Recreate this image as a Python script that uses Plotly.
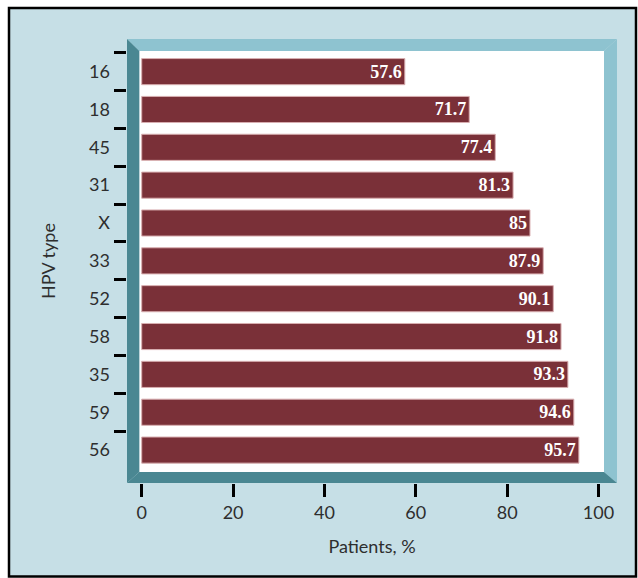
import plotly.graph_objects as go

hpv_types = ["16", "18", "45", "31", "X", "33", "52", "58", "35", "59", "56"]
patients_pct = [57.6, 71.7, 77.4, 81.3, 85, 87.9, 90.1, 91.8, 93.3, 94.6, 95.7]
x_ticks = [0, 20, 40, 60, 80, 100]

W, H = 638, 578
PL, PR, PT, PB = 127, 617, 39, 483  # plot area in px


def px_x(px):
    return (px - PL) / (PR - PL)


def px_y(py):
    return (PB - py) / (PB - PT)


BG = "#c6dfe6"
LIGHT = "#8ec3d0"
DARK = "#4a8792"
BAR = "#7a3038"
TXT = "#2e2e2e"

fig = go.Figure()
fig.add_trace(go.Bar(
    y=hpv_types, x=patients_pct, orientation="h",
    marker=dict(color=BAR, line=dict(color="#d8aeb0", width=1)),
    text=patients_pct, texttemplate="%{x}", textposition="inside",
    insidetextanchor="end",
    textfont=dict(family="Liberation Serif", size=18, color="white", weight="bold"),
    hoverinfo="skip",
))

oL, oR, oT, oB = px_x(127), px_x(617), px_y(39), px_y(483)
iL, iR, iT, iB = px_x(139.3), px_x(604), px_y(51), px_y(472)

shapes = [
    dict(type="rect", xref="paper", yref="paper", x0=px_x(9), x1=px_x(636),
         y0=px_y(576.5), y1=px_y(8), fillcolor=BG, line=dict(color="black", width=2.5),
         layer="below"),
    dict(type="rect", xref="paper", yref="paper", x0=iL, x1=iR, y0=iB, y1=iT,
         fillcolor="white", line=dict(width=0), layer="below"),
    dict(type="path", xref="paper", yref="paper",
         path=f"M{oL},{oT} L{oR},{oT} L{iR},{iT} L{iL},{iT} Z",
         fillcolor=LIGHT, line=dict(width=0), layer="below"),
    dict(type="path", xref="paper", yref="paper",
         path=f"M{oR},{oT} L{oR},{oB} L{iR},{iB} L{iR},{iT} Z",
         fillcolor=LIGHT, line=dict(width=0), layer="below"),
    dict(type="path", xref="paper", yref="paper",
         path=f"M{oL},{oB} L{oR},{oB} L{iR},{iB} L{iL},{iB} Z",
         fillcolor=DARK, line=dict(width=0), layer="below"),
    dict(type="path", xref="paper", yref="paper",
         path=f"M{oL},{oT} L{iL},{iT} L{iL},{iB} L{oL},{oB} Z",
         fillcolor=DARK, line=dict(width=0), layer="below"),
]

fig.update_layout(
    width=W, height=H,
    margin=dict(l=PL, r=W - PR, t=PT, b=H - PB, pad=0),
    paper_bgcolor="white", plot_bgcolor="rgba(0,0,0,0)",
    bargap=0.31, showlegend=False, shapes=shapes,
    font=dict(family="Lato", size=18, color=TXT),
    xaxis=dict(range=[-3.22, 104.05], tickvals=x_ticks, ticks="outside",
               ticklen=13, tickwidth=2.5, tickcolor="black", showgrid=False,
               zeroline=False, showline=False,
               title=dict(text="Patients, %", standoff=18,
                          font=dict(size=18, color=TXT)),
               tickfont=dict(size=18, color=TXT)),
    yaxis=dict(type="category", range=[10.87, -0.862], ticks="outside",
               tickson="boundaries", ticklen=12, tickwidth=2.5, tickcolor="black",
               ticklabelstandoff=16,
               showgrid=False, zeroline=False, showline=False,
               title=dict(text="HPV type", standoff=28,
                          font=dict(size=18, color=TXT)),
               tickfont=dict(size=18, color=TXT)),
)

fig.write_html("out.html")
